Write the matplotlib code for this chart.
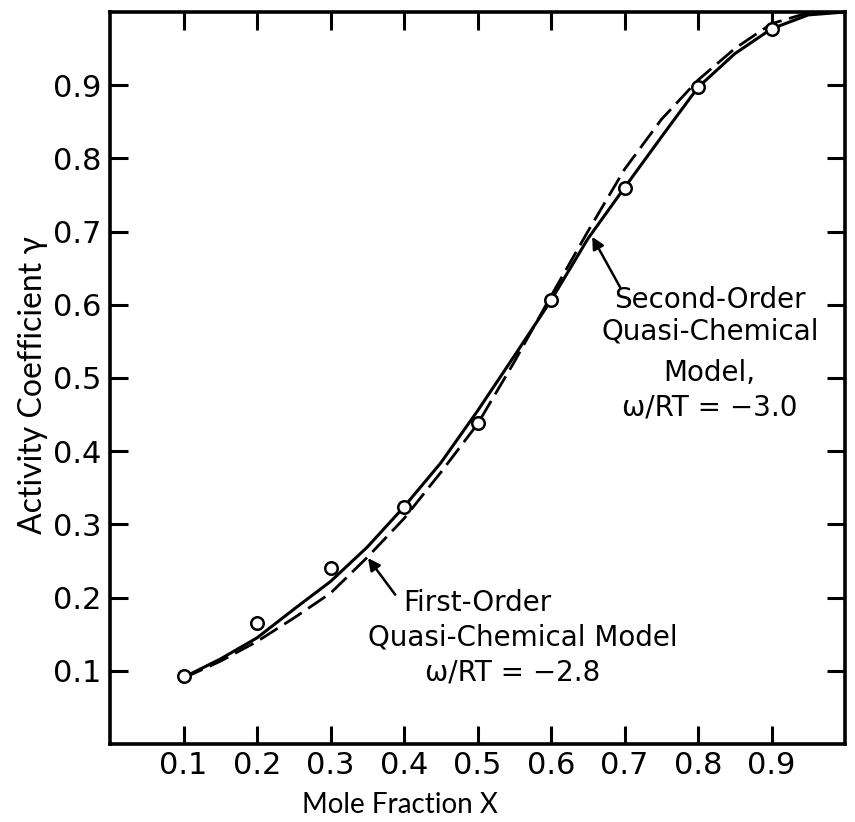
import matplotlib
matplotlib.use("Agg")
import matplotlib.pyplot as plt

plt.rcParams['font.family'] = ['DejaVu Sans']

# Measured activity coefficients
x_meas = [0.1, 0.2, 0.3, 0.4, 0.5, 0.6, 0.7, 0.8, 0.9]
gamma_meas = [0.093, 0.165, 0.240, 0.324, 0.439, 0.607, 0.760, 0.897, 0.977]

# Second-order quasi-chemical model, w/RT = -3.0 (solid)
x_second = [0.10, 0.15, 0.20, 0.25, 0.30, 0.35, 0.40, 0.45, 0.50, 0.55,
            0.60, 0.65, 0.70, 0.75, 0.80, 0.85, 0.90, 0.95, 1.00]
gamma_second = [0.091, 0.116, 0.145, 0.184, 0.222, 0.269, 0.324, 0.384, 0.455, 0.530,
                0.606, 0.690, 0.760, 0.829, 0.897, 0.943, 0.977, 0.996, 1.000]

# First-order quasi-chemical model, w/RT = -2.8 (dashed)
x_first = [0.10, 0.15, 0.20, 0.25, 0.30, 0.35, 0.40, 0.45, 0.50, 0.55,
           0.60, 0.65, 0.70, 0.75, 0.80, 0.85, 0.90, 0.95, 1.00]
gamma_first = [0.090, 0.113, 0.140, 0.172, 0.206, 0.255, 0.308, 0.371, 0.437, 0.522,
               0.612, 0.700, 0.785, 0.853, 0.907, 0.950, 0.984, 0.999, 1.000]

ticks = [0.1, 0.2, 0.3, 0.4, 0.5, 0.6, 0.7, 0.8, 0.9]
tick_labels = ['0.1', '0.2', '0.3', '0.4', '0.5', '0.6', '0.7', '0.8', '0.9']

fig = plt.figure(figsize=(8.55, 8.22), dpi=100)
ax = fig.add_axes([0.1287, 0.0949, 0.8596, 0.8905])

ax.plot(x_second, gamma_second, color='black', lw=2.2, solid_capstyle='round', zorder=3)
ax.plot(x_first, gamma_first, color='black', lw=2.0, linestyle=(0, (7.5, 2.8)), zorder=3)
ax.plot(x_meas, gamma_meas, linestyle='none', marker='o', markersize=9,
        markerfacecolor='white', markeredgecolor='black', markeredgewidth=1.8, zorder=4)

ax.set_xlim(0, 1.0)
ax.set_ylim(0, 1.0)
ax.set_xticks(ticks)
ax.set_xticklabels(tick_labels)
ax.set_yticks(ticks)
ax.set_yticklabels(tick_labels)
ax.tick_params(direction='in', length=13, width=2.2, labelsize=22,
               top=True, right=True)
ax.tick_params(axis='x', pad=5)
ax.tick_params(axis='y', pad=6)
for s in ax.spines.values():
    s.set_linewidth(2.6)

ax.set_xlabel('Mole Fraction X', fontsize=20, family=['Lato', 'DejaVu Sans'])
ax.xaxis.set_label_coords(0.395, -0.066)
ax.set_ylabel('Activity Coefficient \u03b3', fontsize=23, family=['Lato', 'DejaVu Sans'])
ax.yaxis.set_label_coords(-0.085, 0.49)

txt = dict(fontsize=20, ha='center', va='center')
ax.text(0.816, 0.607, 'Second-Order', **txt)
ax.text(0.816, 0.563, 'Quasi-Chemical', **txt)
ax.text(0.816, 0.507, 'Model,', **txt)
ax.text(0.816, 0.460, '\u03c9/RT = \u22123.0', **txt)

ax.text(0.500, 0.193, 'First-Order', **txt)
ax.text(0.561, 0.146, 'Quasi-Chemical Model', **txt)
ax.text(0.548, 0.098, '\u03c9/RT = \u22122.8', **txt)

arrow = dict(arrowstyle='-|>', lw=1.8, color='black', mutation_scale=18,
             shrinkA=0, shrinkB=0)
ax.annotate('', xy=(0.656, 0.693), xytext=(0.694, 0.624), arrowprops=arrow)
ax.annotate('', xy=(0.351, 0.254), xytext=(0.388, 0.204), arrowprops=arrow)

fig.savefig('out.png', dpi=100)
